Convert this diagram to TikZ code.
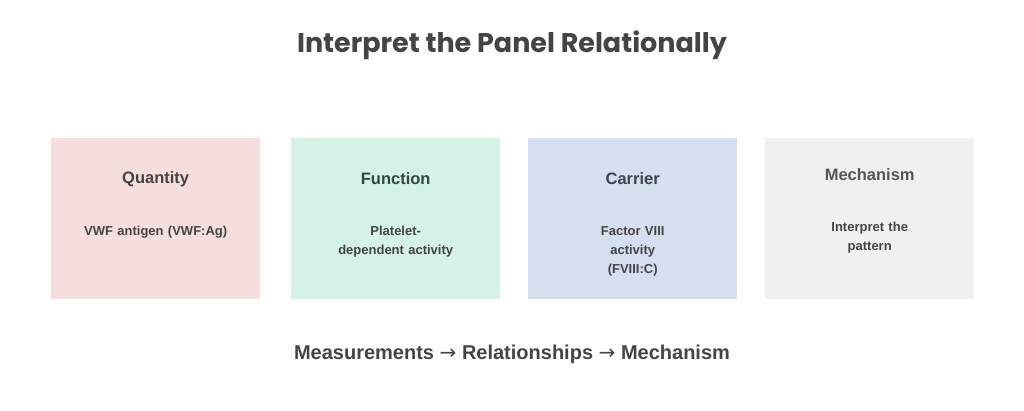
\documentclass[tikz,border=0pt]{standalone}
\usepackage{fontspec}
\setmainfont{Liberation Sans}
\newfontfamily\titlefont{Poppins}
\newfontfamily\symfont{DejaVu Sans}
\definecolor{pinkbox}{HTML}{F7DEDE}
\definecolor{greenbox}{HTML}{D4F3E4}
\definecolor{bluebox}{HTML}{D5DFF0}
\definecolor{graybox}{HTML}{F0F0F0}
\definecolor{txt}{HTML}{444444}
\definecolor{greentxt}{HTML}{33483E}
\definecolor{bluetxt}{HTML}{40444C}
\definecolor{graytxt}{HTML}{555555}
\begin{document}
\begin{tikzpicture}[x=1pt,y=-1pt,
  card/.style={anchor=north west, inner sep=0pt, minimum width=209pt, minimum height=161pt},
  cardtitle/.style={font=\fontsize{16.5}{20}\selectfont\bfseries, text=txt, inner sep=0pt},
  cardbody/.style={font=\fontsize{13}{19}\selectfont\bfseries, text=txt, align=center, inner sep=0pt, text width=150pt}]
\useasboundingbox[fill=white] (0,0) rectangle (1024,411);
\node[font=\titlefont\fontsize{27}{31}\selectfont\bfseries, text=txt] (title) at (512,45) {Interpret the Panel Relationally};

\node[card, fill=pinkbox] (q) at (51,138) {};
\node[card, fill=greenbox] (f) at (291,138) {};
\node[card, fill=bluebox] (c) at (528,138) {};
\node[card, fill=graybox] (m) at (765,138) {};

\node[cardtitle] (qt) at (q.center |- 0,179) {Quantity};
\node[cardtitle, text=greentxt] (ft) at (f.center |- 0,179) {Function};
\node[cardtitle, text=bluetxt] (ct) at (c.center |- 0,179) {Carrier};
\node[cardtitle, text=graytxt] (mt) at (m.center |- 0,175) {Mechanism};

\node[cardbody] (qb) at (q.center |- 0,232) {VWF antigen (VWF:Ag)};
\node[cardbody] (fb) at (f.center |- 0,242) {Platelet-\\dependent activity};
\node[cardbody] (cb) at (c.center |- 0,251) {Factor VIII\\activity\\(FVIII:C)};
\node[cardbody] (mb) at (m.center |- 0,238) {Interpret the\\pattern};

\node[font=\fontsize{20}{23}\selectfont\bfseries, text=txt] (foot) at (512,354) {Measurements {\symfont\mdseries →} Relationships {\symfont\mdseries →} Mechanism};
\end{tikzpicture}
\end{document}
